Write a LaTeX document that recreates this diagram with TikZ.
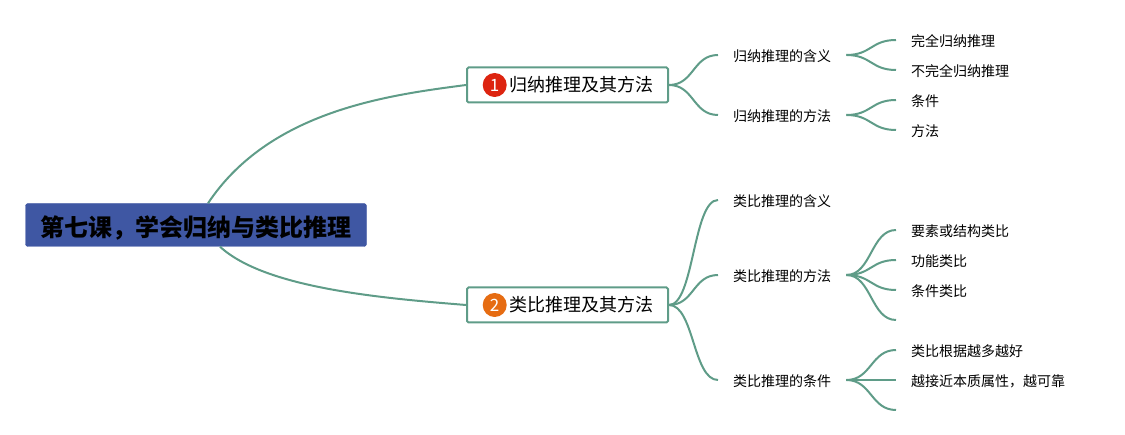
\documentclass[tikz,border=0pt]{standalone}
\usepackage{fontspec}
\setmainfont{Noto Sans CJK SC}
\usetikzlibrary{positioning}
\definecolor{linkgreen}{HTML}{5F9C88}
\definecolor{rootblue}{HTML}{3F57A3}
\definecolor{badgered}{HTML}{DD2410}
\definecolor{badgeorange}{HTML}{E66C12}

\begin{document}
\begin{tikzpicture}[x=1pt, y=-1pt,
                root box/.style={fill=rootblue, draw=rootblue, rounded corners=2.5pt, minimum width=341pt, minimum height=43pt, inner sep=0pt, text height=24pt, text depth=0pt, font=\fontsize{24}{28}\selectfont\bfseries},
                way box/.style={draw=linkgreen, line width=2pt, fill=white, rounded corners=1.5pt, minimum width=201pt, minimum height=35pt, anchor=west},
                way text/.style={inner xsep=2pt, inner ysep=0pt, text height=13pt, text depth=0pt, font=\fontsize{18}{22}\selectfont},
                badge/.style={circle, inner sep=0pt, minimum size=24pt, text=white, font=\fontsize{17}{20}\selectfont},
                item/.style={anchor=west, inner xsep=15pt, inner ysep=0pt, text height=13pt, text depth=0.4pt, font=\fontsize{14}{17}\selectfont},
                link/.style={draw=linkgreen, line width=2pt},
                fork/.style={link, to path={.. controls +(25,0) and +(-25,0) .. (\tikztotarget)}}]

                \useasboundingbox (0,0) rectangle (1125,435);

                % Root
                \node[root box] (root) at (196,225) {第七课，学会归纳与类比推理};

                % Main branches
                \node[way box] (way1) at (466,85) {};
                \node[badge, fill=badgered, right=16.5pt of way1.west] (badge1) {1};
                \node[way text, right=0pt of badge1] (waytext1) {归纳推理及其方法};
                \node[way box] (way2) at (466,305) {};
                \node[badge, fill=badgeorange, right=16.5pt of way2.west] (badge2) {2};
                \node[way text, right=0pt of badge2] (waytext2) {类比推理及其方法};

                \draw[link] ([xshift=12pt]root.north) .. controls (270,110) and (390,95) .. (way1.west);
                \draw[link] ([xshift=24pt]root.south) .. controls (265,288) and (380,298) .. (way2.west);

                % Second level
                \node[item] (sub1) at (718,55) {归纳推理的含义};
                \node[item] (sub2) at (718,115) {归纳推理的方法};
                \node[item] (sub3) at (718,200) {类比推理的含义};
                \node[item] (sub4) at (718,275) {类比推理的方法};
                \node[item] (sub5) at (718,380) {类比推理的条件};

                % Third level
                \node[item] (leaf1) at (896,40) {完全归纳推理};
                \node[item] (leaf2) at (896,70) {不完全归纳推理};
                \node[item] (leaf3) at (896,100) {条件};
                \node[item] (leaf4) at (896,130) {方法};
                \node[item] (leaf5) at (896,230) {要素或结构类比};
                \node[item] (leaf6) at (896,260) {功能类比};
                \node[item] (leaf7) at (896,290) {条件类比};
                \coordinate (leaf8) at (896,320);
                \node[item] (leaf9) at (896,350) {类比根据越多越好};
                \node[item] (leaf10) at (896,380) {越接近本质属性，越可靠};
                \coordinate (leaf11) at (896,410);

                \foreach \from/\to in {way1/sub1, way1/sub2, way2/sub3, way2/sub4, way2/sub5}
                    \draw[fork] (\from.east) to (\to.west);
                \foreach \from/\to in {sub1/leaf1, sub1/leaf2, sub2/leaf3, sub2/leaf4, sub4/leaf5, sub4/leaf6, sub4/leaf7, sub5/leaf9, sub5/leaf10}
                    \draw[fork] (\from.east) to (\to.west);
                \draw[fork] (sub4.east) to (leaf8);
                \draw[fork] (sub5.east) to (leaf11);
            \end{tikzpicture}
\end{document}
